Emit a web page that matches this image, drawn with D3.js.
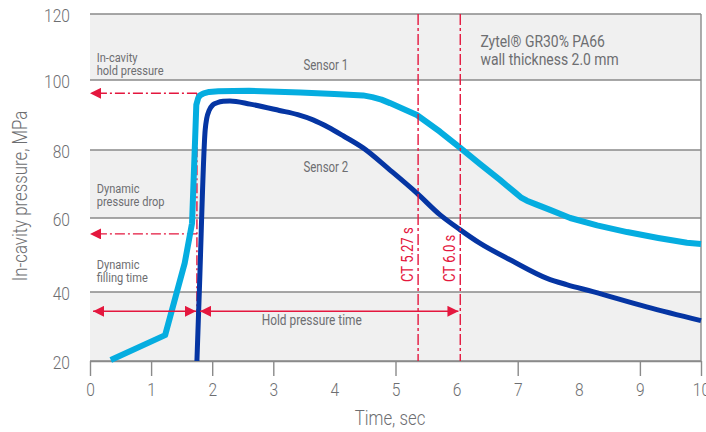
<!DOCTYPE html>
<html>
<head>
<meta charset="utf-8">
<script src="https://cdn.jsdelivr.net/npm/d3@7"></script>
<style>
  body { margin: 0; background: #fff; }
  text { font-family: Roboto, "Liberation Sans Narrow", sans-serif; font-weight: 300; fill: #6d6e71; }
</style>
</head>
<body>
<div id="chart"></div>
<script>
// data
const sensor1Time = [0.34, 1.23, 1.55, 1.67, 1.72, 1.74, 1.77, 1.80, 1.86, 1.95, 2.1, 2.6, 3.44, 4.0, 4.47, 4.62, 4.77, 4.91, 5.12, 5.35, 5.73, 6.06, 6.38, 6.71, 6.95, 7.05, 7.15, 7.3, 7.53, 7.86, 8.3, 8.79, 9.3, 9.77, 10];
const sensor1Pressure = [20.3, 27.5, 47.8, 58.6, 82.9, 92.9, 94.8, 95.6, 96.2, 96.6, 96.8, 96.9, 96.4, 96.0, 95.6, 95.1, 94.4, 93.4, 91.8, 90.0, 85.2, 80.6, 75.9, 71.2, 67.6, 66.1, 65.1, 64.0, 62.4, 60.0, 58.0, 56.2, 54.6, 53.3, 53.0];
const sensor2Time = [1.75, 1.79, 1.885, 1.91, 1.95, 2.01, 2.08, 2.18, 2.29, 2.62, 3.1, 3.4, 3.65, 3.9, 4.15, 4.47, 4.91, 5.35, 5.73, 6.06, 6.38, 6.9, 7.48, 7.8, 8.23, 9.11, 10];
const sensor2Pressure = [20, 40.5, 85.7, 89.0, 91.3, 92.9, 93.5, 93.9, 94.0, 93.1, 91.3, 90.1, 88.6, 86.5, 84.0, 80.6, 74.1, 67.3, 60.9, 56.8, 53.2, 48.5, 43.7, 42.0, 40.1, 35.7, 31.7];

const xTickLabels = [0, 1, 2, 3, 4, 5, 6, 7, 8, 9, 10];
const xTickMarks = [0, 1, 2, 3, 5, 7, 9, 10];
const yTickLabels = [20, 40, 60, 80, 100, 120];
const grayBands = [[100, 120], [60, 80], [20, 40]];

const ctTimes = [5.37, 6.06];
const ctLabels = ["CT 5.27 s", "CT 6.0 s"];
const ctLabelStart = 42.7;

const dropTime = 1.75;
const dropLevels = [96.2, 55.7];
const timeArrows = [[0.05, 1.735], [1.80, 6.03]];
const timeArrowLevel = 34.4;

const width = 706, height = 432;
const red = "#e4173e", cyan = "#05ade0", navy = "#0535a3";
const narrow = 0.82; // squeeze Roboto to look like the condensed face

const svg = d3.select("#chart").append("svg").attr("width", width).attr("height", height);

const x = d3.scaleLinear().domain([0, 10]).range([90, 701]);
// the grid of the original is not evenly spaced
const y = d3.scaleLinear().domain([20, 40, 60, 80, 100, 120]).range([361, 292, 218, 150, 80, 14]);

// bands
svg.selectAll(".band").data(grayBands).enter().append("rect")
  .attr("x", x(0))
  .attr("y", d => y(d[1]))
  .attr("width", x(10) - x(0))
  .attr("height", d => y(d[0]) - y(d[1]))
  .attr("fill", "#f0f0f0");

// grid lines
svg.selectAll(".grid").data(yTickLabels).enter().append("line")
  .attr("x1", x(0)).attr("x2", x(10))
  .attr("y1", d => y(d)).attr("y2", d => y(d))
  .attr("stroke", "#8a8a8a").attr("stroke-width", 1.4);

svg.append("line")
  .attr("x1", x(10)).attr("x2", x(10))
  .attr("y1", y(120)).attr("y2", y(20))
  .attr("stroke", "#8a8a8a").attr("stroke-width", 1.4);

// x axis
const xAxis = svg.append("g")
  .attr("transform", `translate(0,${y(20)})`)
  .call(d3.axisBottom(x).tickValues(xTickLabels).tickSize(15).tickFormat("").tickSizeOuter(0));
xAxis.select(".domain").attr("stroke", "#8a8a8a").attr("stroke-width", 1.4);
xAxis.selectAll(".tick line")
  .attr("stroke", "#8a8a8a").attr("stroke-width", 1.4)
  .attr("display", d => xTickMarks.includes(d) ? null : "none");
xAxis.selectAll(".tick").append("text")
  .attr("transform", `translate(0,35) scale(${narrow},1)`)
  .attr("text-anchor", "middle")
  .style("font-size", "19px")
  .text(d => d);

// y axis
const yAxis = svg.append("g")
  .attr("transform", `translate(${x(0)},0)`)
  .call(d3.axisLeft(y).tickValues(yTickLabels).tickSize(0).tickFormat(""));
yAxis.select(".domain").remove();
yAxis.selectAll(".tick").append("text")
  .attr("transform", `translate(-20,7) scale(${narrow},1)`)
  .attr("text-anchor", "end")
  .style("font-size", "19px")
  .text(d => d);

// axis titles
svg.append("text")
  .attr("transform", `translate(390,425) scale(${narrow},1)`)
  .attr("text-anchor", "middle")
  .style("font-size", "20.5px")
  .text("Time, sec");

svg.append("text")
  .attr("transform", `translate(27,196) rotate(-90) scale(${narrow},1)`)
  .attr("text-anchor", "middle")
  .style("font-size", "20.5px")
  .text("In-cavity pressure, MPa");

// arrow heads
const defs = svg.append("defs");
defs.append("marker")
  .attr("id", "head")
  .attr("viewBox", "0 0 11 11")
  .attr("refX", 11).attr("refY", 5.5)
  .attr("markerWidth", 11).attr("markerHeight", 11)
  .attr("markerUnits", "userSpaceOnUse")
  .attr("orient", "auto-start-reverse")
  .append("path")
  .attr("d", "M0,0 L11,5.5 L0,11 Z")
  .attr("fill", red);

// dash-dot drop lines (under the curves)
svg.append("line")
  .attr("x1", x(dropTime)).attr("x2", x(dropTime))
  .attr("y1", y(dropLevels[0])).attr("y2", y(20))
  .attr("stroke", red).attr("stroke-width", 1.4)
  .attr("stroke-dasharray", "10,3,2,3");

svg.selectAll(".drop").data(dropLevels).enter().append("line")
  .attr("x1", x(dropTime)).attr("x2", x(0))
  .attr("y1", d => y(d)).attr("y2", d => y(d))
  .attr("stroke", red).attr("stroke-width", 1.4)
  .attr("stroke-dasharray", "10,3,2,3")
  .attr("marker-end", "url(#head)");

// curves
const line = d3.line().x(d => x(d[0])).y(d => y(d[1]));

svg.append("path")
  .datum(d3.zip(sensor1Time, sensor1Pressure))
  .attr("d", line)
  .attr("fill", "none")
  .attr("stroke", cyan)
  .attr("stroke-width", 6)
  .attr("stroke-linejoin", "round");

svg.append("path")
  .datum(d3.zip(sensor2Time, sensor2Pressure))
  .attr("d", line.curve(d3.curveMonotoneX))
  .attr("fill", "none")
  .attr("stroke", navy)
  .attr("stroke-width", 5)
  .attr("stroke-linejoin", "round");

// time arrows
svg.selectAll(".tarrow").data(timeArrows).enter().append("line")
  .attr("x1", d => x(d[0])).attr("x2", d => x(d[1]))
  .attr("y1", y(timeArrowLevel)).attr("y2", y(timeArrowLevel))
  .attr("stroke", red).attr("stroke-width", 1.4)
  .attr("marker-start", "url(#head)")
  .attr("marker-end", "url(#head)");

// cycle time lines
svg.selectAll(".ct").data(ctTimes).enter().append("line")
  .attr("x1", d => x(d)).attr("x2", d => x(d))
  .attr("y1", y(120)).attr("y2", y(20))
  .attr("stroke", red).attr("stroke-width", 1.4)
  .attr("stroke-dasharray", "11,3,3,3");

svg.selectAll(".ctlabel").data(ctTimes).enter().append("text")
  .attr("transform", d => `translate(${x(d) - 5},${y(ctLabelStart)}) rotate(-90) scale(${narrow},1)`)
  .style("font-size", "16px")
  .style("font-weight", 400)
  .style("fill", red)
  .text((d, i) => ctLabels[i]);

// notes
const notes = [
  { t: 0.11, p: 105.5, lines: ["In-cavity", "hold pressure"], anchor: "start", size: 13.5 },
  { t: 0.11, p: 67.3, lines: ["Dynamic", "pressure drop"], anchor: "start", size: 13.5 },
  { t: 0.11, p: 46.2, lines: ["Dynamic", "filling time"], anchor: "start", size: 13.5 },
  { t: 3.86, p: 102.9, lines: ["Sensor 1"], anchor: "middle", size: 14 },
  { t: 3.86, p: 73.6, lines: ["Sensor 2"], anchor: "middle", size: 14 },
  { t: 2.81, p: 30.5, lines: ["Hold pressure time"], anchor: "start", size: 14.5 },
  { t: 6.39, p: 110.1, lines: ["Zytel® GR30% PA66", "wall thickness 2.0 mm"], anchor: "start", size: 17, gap: 18 }
];

notes.forEach(n => {
  const t = svg.append("text")
    .attr("transform", `translate(${x(n.t)},${y(n.p)}) scale(${narrow},1)`)
    .attr("text-anchor", n.anchor)
    .style("font-size", n.size + "px")
    .style("font-weight", 400);
  n.lines.forEach((l, i) => {
    t.append("tspan")
      .attr("x", 0)
      .attr("dy", i === 0 ? 0 : (n.gap || 13))
      .text(l);
  });
});
</script>
</body>
</html>
